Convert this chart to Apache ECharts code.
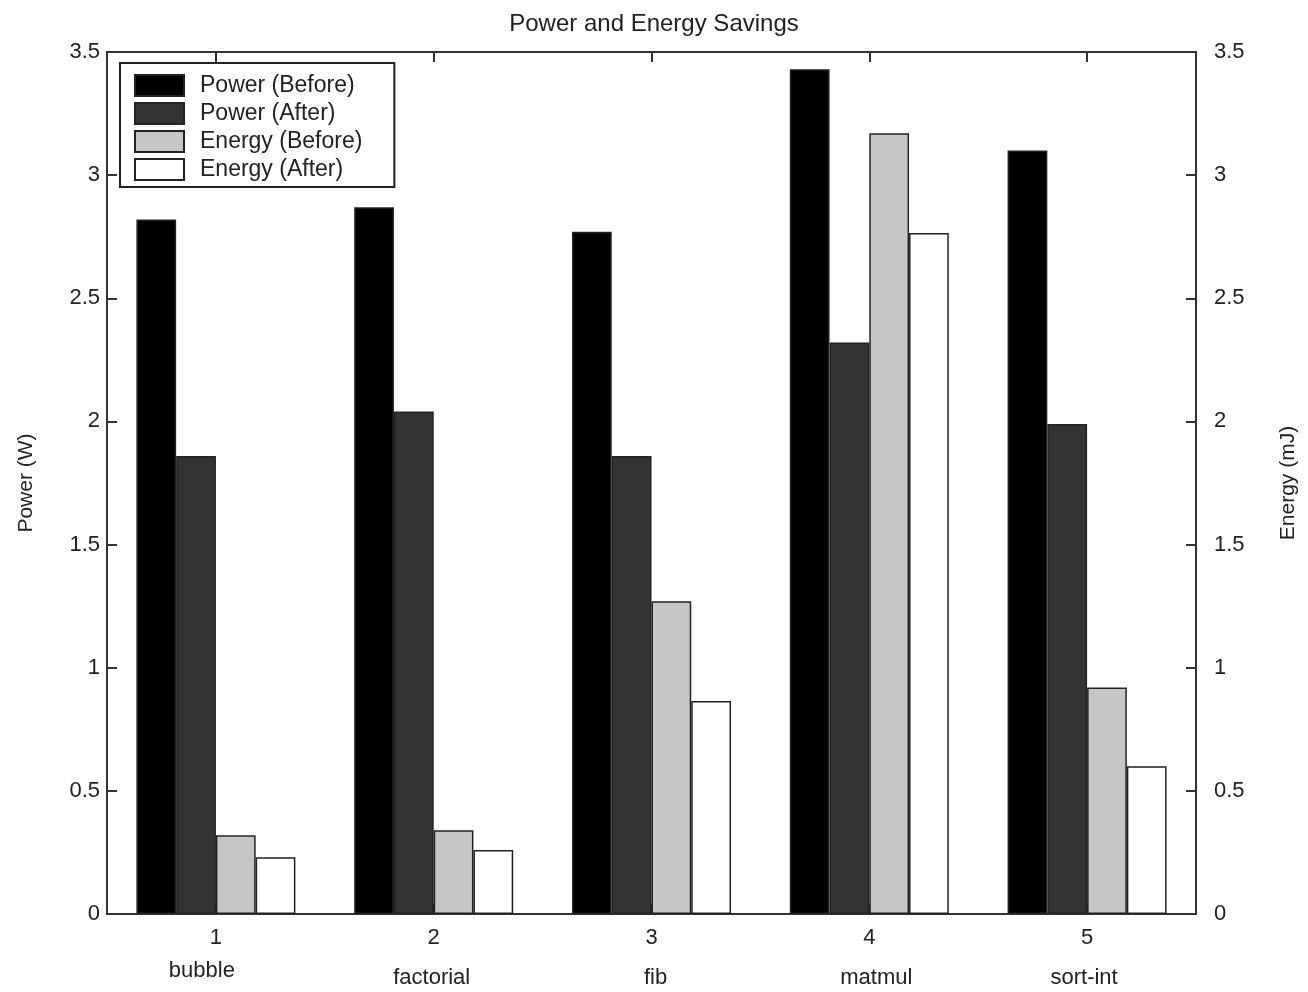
<!DOCTYPE html>
<html>
<head>
<meta charset="utf-8">
<script src="https://cdn.jsdelivr.net/npm/echarts@6/dist/echarts.min.js"></script>
<style>
  html, body { margin: 0; padding: 0; background: #ffffff; }
  #chart { width: 1308px; height: 992px; }
</style>
</head>
<body>
<div id="chart"></div>
<script>
const categories = ['1', '2', '3', '4', '5'];
const programNames = ['bubble', 'factorial', 'fib', 'matmul', 'sort-int'];
const powerBefore = [2.82, 2.87, 2.77, 3.43, 3.10];
const powerAfter = [1.86, 2.04, 1.86, 2.32, 1.99];
const energyBefore = [0.32, 0.34, 1.27, 3.17, 0.92];
const energyAfter = [0.23, 0.26, 0.865, 2.765, 0.60];
const yTicks = [0, 0.5, 1, 1.5, 2, 2.5, 3, 3.5];

const FONT = "'Liberation Sans', Arial, Helvetica, sans-serif";
const TXT = '#222';
const LINE = '#333';

const nameStyles = [
  { padding: [0, 28, 0, 0], lineHeight: 42 },
  { padding: [0, 4, 0, 0], lineHeight: 56 },
  { padding: [0, 0, 0, 8], lineHeight: 56 },
  { padding: [0, 0, 0, 14], lineHeight: 56 },
  { padding: [0, 6, 0, 0], lineHeight: 56 }
];
const rich = { n: { fontSize: 22, fontFamily: FONT, color: TXT, lineHeight: 24 } };
nameStyles.forEach((s, i) => {
  rich['p' + i] = Object.assign({ fontSize: 22, fontFamily: FONT, color: TXT }, s);
});

const chart = echarts.init(document.getElementById('chart'), null, { renderer: 'canvas' });

function barSeries(name, data, color, yIdx) {
  return {
    name: name,
    type: 'bar',
    xAxisIndex: 0,
    yAxisIndex: yIdx,
    data: data,
    barGap: '0%',
    barCategoryGap: '27%',
    itemStyle: { color: color, borderColor: '#222', borderWidth: 1.5 },
    emphasis: { disabled: true },
    animation: false
  };
}

const yAxisCommon = {
  type: 'value',
  min: 0,
  max: 3.5,
  interval: 0.5,
  splitLine: { show: false },
  axisLine: { show: true, lineStyle: { color: LINE, width: 2 } },
  axisTick: { show: true, inside: true, length: 10, lineStyle: { color: LINE, width: 2 } },
  nameLocation: 'middle',
  nameTextStyle: { fontSize: 21, fontFamily: FONT, color: TXT }
};

chart.setOption({
  animation: false,
  backgroundColor: '#ffffff',
  title: {
    text: 'Power and Energy Savings',
    left: 'center',
    top: 7,
    textStyle: { fontSize: 24, fontWeight: 'normal', fontFamily: FONT, color: TXT }
  },
  legend: {
    orient: 'vertical',
    left: 120,
    top: 63,
    itemWidth: 49,
    itemHeight: 21,
    itemGap: 5,
    padding: [11, 32, 6, 14],
    backgroundColor: '#ffffff',
    borderColor: '#222',
    borderWidth: 2,
    borderRadius: 0,
    icon: 'rect',
    textStyle: { fontSize: 23, fontFamily: FONT, color: TXT, padding: [0, 0, 0, 11] },
    data: ['Power (Before)', 'Power (After)', 'Energy (Before)', 'Energy (After)']
  },
  grid: { left: 107, right: 112, top: 52, bottom: 78, containLabel: false },
  xAxis: [
    {
      type: 'category',
      position: 'bottom',
      data: categories,
      axisLine: { onZero: false, lineStyle: { color: LINE, width: 2 } },
      axisTick: { show: true, interval: 0, inside: true, alignWithLabel: true, length: 10, lineStyle: { color: LINE, width: 2 } },
      axisLabel: {
        margin: 12,
        interval: 0,
        formatter: function (value, index) {
          return '{n|' + value + '}\n{p' + index + '|' + programNames[index] + '}';
        },
        rich: rich
      }
    },
    {
      type: 'category',
      position: 'top',
      data: categories,
      axisLine: { show: true, onZero: false, lineStyle: { color: LINE, width: 2 } },
      axisTick: { show: true, interval: 0, inside: true, alignWithLabel: true, length: 10, lineStyle: { color: LINE, width: 2 } },
      axisLabel: { show: true, interval: 0, formatter: () => '' }
    }
  ],
  yAxis: [
    Object.assign({}, yAxisCommon, {
      position: 'left',
      name: 'Power (W)',
      nameGap: 70,
      axisLabel: {
        margin: 7, fontSize: 22, fontFamily: FONT, color: TXT,
        formatter: v => (yTicks.indexOf(v) >= 0 ? String(v) : '')
      }
    }),
    Object.assign({}, yAxisCommon, {
      position: 'right',
      name: 'Energy (mJ)',
      nameGap: 82,
      axisLabel: {
        margin: 18, fontSize: 22, fontFamily: FONT, color: TXT,
        formatter: v => (yTicks.indexOf(v) >= 0 ? String(v) : '')
      }
    })
  ],
  series: [
    barSeries('Power (Before)', powerBefore, '#000000', 0),
    barSeries('Power (After)', powerAfter, '#333333', 0),
    barSeries('Energy (Before)', energyBefore, '#c6c6c6', 1),
    barSeries('Energy (After)', energyAfter, '#ffffff', 1)
  ]
});
</script>
</body>
</html>
